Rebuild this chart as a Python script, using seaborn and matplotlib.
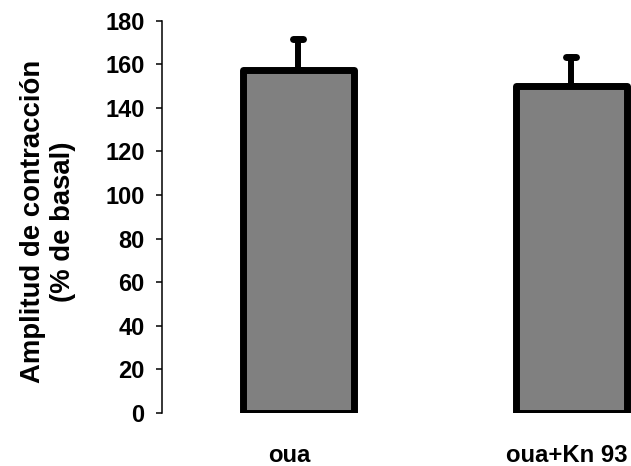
import matplotlib
matplotlib.use("Agg")
import matplotlib.pyplot as plt
import matplotlib.transforms as mtransforms
from matplotlib.markers import MarkerStyle
import seaborn as sns
import pandas as pd

# Contraction amplitude relative to basal, mean and SEM per condition
conditions = ["oua", "oua+Kn 93"]
amplitude_mean = [157.5, 149.8]
amplitude_sem = [14, 13.5]
y_ticks = [0, 20, 40, 60, 80, 100, 120, 140, 160, 180]

sns.set_style("ticks")
plt.rcParams["font.family"] = ["Liberation Sans", "DejaVu Sans"]
plt.rcParams["font.weight"] = "bold"
plt.rcParams["text.color"] = "black"
plt.rcParams["axes.labelcolor"] = "black"
plt.rcParams["xtick.color"] = "black"
plt.rcParams["ytick.color"] = "black"

df = pd.DataFrame({"condition": conditions, "amplitude": amplitude_mean})

fig = plt.figure(figsize=(6.31, 4.66), dpi=100)
ax = fig.add_axes([0.2567, 0.1137, 0.7433, 0.8423])

sns.barplot(data=df, x="condition", y="amplitude", order=conditions,
            color="#808080", saturation=1, errorbar=None, width=0.41,
            edgecolor="black", linewidth=5, ax=ax, zorder=3)
for patch in ax.patches:
    patch.set_joinstyle("round")

# Upper-only SEM whiskers with rounded caps
_, caplines, barcols = ax.errorbar(
    range(len(conditions)), amplitude_mean,
    yerr=[[0] * len(conditions), amplitude_sem],
    fmt="none", ecolor="black", elinewidth=4.3, capsize=3.6,
    capthick=5, zorder=2)
for cap in caplines:
    cap.set_marker(MarkerStyle("_", capstyle="round"))
for col in barcols:
    col.set_capstyle("round")

ax.set_ylim(0, 180)
ax.set_xlim(-0.5, 1.218)
ax.set_yticks(y_ticks)
ax.set_yticklabels([str(t) for t in y_ticks], fontsize=17, fontweight="bold")
ax.tick_params(axis="y", length=4.5, width=1.1, pad=8, color="black")
ax.tick_params(axis="x", length=0, pad=22, labelsize=17.2)

# nudge the category labels slightly left of the bar centres
for lbl, dx in zip(ax.get_xticklabels(), [-9, -5]):
    lbl.set_fontweight("bold")
    lbl.set_transform(lbl.get_transform() +
                      mtransforms.ScaledTranslation(dx / 100, 0, fig.dpi_scale_trans))

ax.set_xlabel("")
ax.set_ylabel("Amplitud de contracción\n(% de basal)", fontsize=19.8,
              fontweight="bold", linespacing=1.2)
ax.yaxis.set_label_coords(-0.183, 0.487)

sns.despine(ax=ax, top=True, right=True, bottom=True)
ax.spines["left"].set_linewidth(1.1)
ax.spines["left"].set_color("black")

fig.savefig("out.png", dpi=100)
